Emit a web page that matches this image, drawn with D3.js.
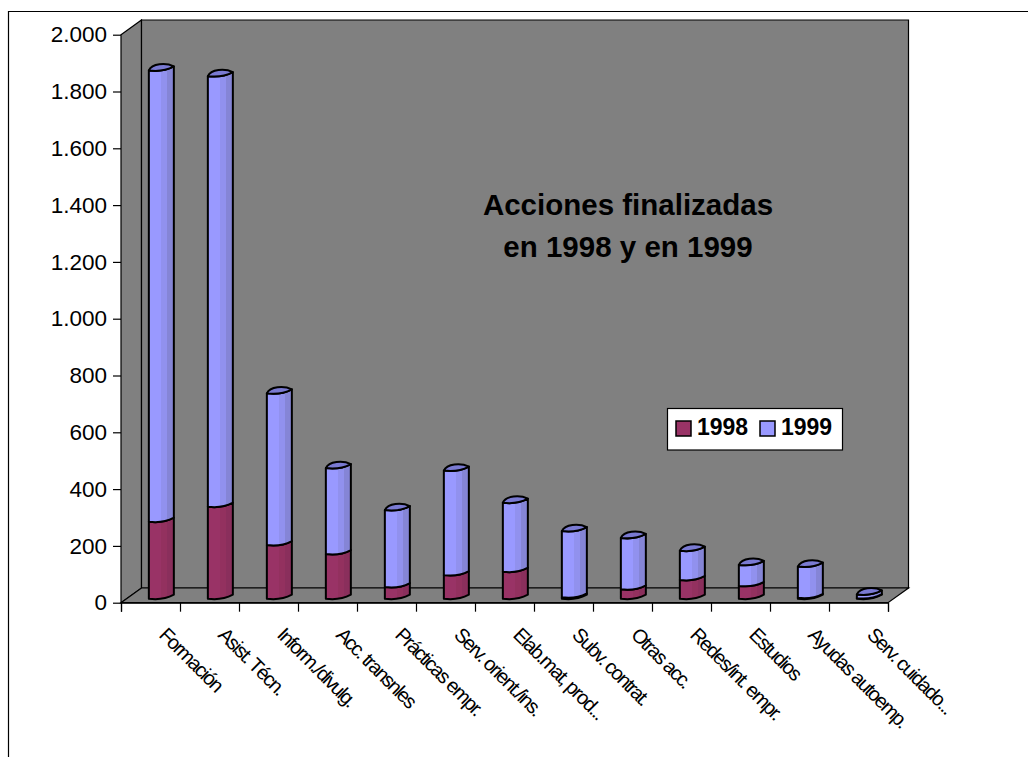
<!DOCTYPE html>
<html>
<head>
<meta charset="utf-8">
<script src="https://cdn.jsdelivr.net/npm/d3@7"></script>
<style>
  html, body { margin: 0; background: #fff; }
  text { font-family: "Liberation Sans", Arial, sans-serif; fill: #000; }
</style>
</head>
<body>
<svg id="chart" width="1028" height="757"></svg>
<script>
// values
var categories = ['Formación', 'Asist. Técn.', 'Inform./divulg.', 'Acc. transnles', 'Prácticas empr.',
  'Serv. orient./ins.', 'Elab.mat, prod...', 'Subv. contrat.', 'Otras acc.', 'Redes/int. empr.',
  'Estudios', 'Ayudas autoemp.', 'Serv. cuidado...'];
var values1998 = [271, 324, 189, 157, 41, 83, 95, 5, 33, 66, 45, 3, 2];
var values1999 = [1589, 1516, 534, 303, 271, 368, 243, 233, 181, 103, 74, 110, 13];
var yTicks = [0, 200, 400, 600, 800, 1000, 1200, 1400, 1600, 1800, 2000];
var seriesNames = ['1998', '1999'];
var titleLines = ['Acciones finalizadas', 'en 1998 y en 1999'];

var svg = d3.select('#chart');

// frame of the chart area, only left and top are inside the picture
svg.append('path')
  .attr('d', 'M8.5,757V11.5H1028')
  .attr('fill', 'none')
  .attr('stroke', '#000')
  .attr('stroke-width', 1.2);

// plot box, depth is how far the back wall is shifted from the front
var x0 = 121, x1 = 888, yBottom = 602.7, yTop = 34.7;
var depthX = 20.5, depthY = 14.7;

var xEdge = d3.scaleLinear().domain([0, categories.length]).range([x0, x1]);
var xBand = d3.scaleBand().domain(categories).range([x0, x1]);
var yScale = d3.scaleLinear().domain([0, 2000]).range([yBottom, yTop]);

var defs = svg.append('defs');
function addGradient(id, colors) {
  var grad = defs.append('linearGradient').attr('id', id);
  var offs = [0, 0.5, 0.5, 0.72, 0.72, 1];
  offs.forEach(function(o, i) {
    grad.append('stop').attr('offset', o).attr('stop-color', colors[Math.floor(i / 2)]);
  });
}
addGradient('grad1998', ['#993366', '#93315f', '#8a2f5c']);
addGradient('grad1999', ['#9999ff', '#9191ee', '#8585d6']);

// walls and floor
var walls = svg.append('g').attr('fill', '#808080').attr('stroke', '#000').attr('stroke-width', 1.2);
walls.append('polygon').attr('points', [
  [x0, yTop], [x0 + depthX, yTop - depthY], [x0 + depthX, yBottom - depthY], [x0, yBottom]
].join(' '));
walls.append('polygon').attr('points', [
  [x0 + depthX, yTop - depthY], [x1 + depthX, yTop - depthY], [x1 + depthX, yBottom - depthY], [x0 + depthX, yBottom - depthY]
].join(' '));
walls.append('polygon').attr('points', [
  [x0, yBottom], [x0 + depthX, yBottom - depthY], [x1 + depthX, yBottom - depthY], [x1, yBottom]
].join(' '));

// axes
var yAxis = d3.axisLeft(yScale)
  .tickValues(yTicks)
  .tickSize(8)
  .tickPadding(6)
  .tickFormat(function(d) { return d3.format(',')(d).replace(',', '.'); });
var yG = svg.append('g').attr('transform', 'translate(' + x0 + ',0)').call(yAxis);
yG.select('.domain').remove();
yG.selectAll('text').style('font-size', '22.5px');
yG.selectAll('line').attr('stroke-width', 1.2);

var xAxis = d3.axisBottom(xEdge).ticks(categories.length).tickSize(9).tickFormat('');
var xG = svg.append('g').attr('transform', 'translate(0,' + yBottom + ')').call(xAxis);
xG.select('.domain').attr('stroke-width', 1.2);
xG.selectAll('line').attr('stroke-width', 1.2);

// category labels at 45 degrees
svg.append('g').selectAll('text')
  .data(categories)
  .enter()
  .append('text')
    .attr('transform', function(d) {
      return 'translate(' + (xBand(d) + xBand.bandwidth() / 2 + 7.5) + ',636) rotate(45)';
    })
    .style('font-size', '20px')
    .style('letter-spacing', '-1.6px')
    .text(function(d) { return d; });

// stacked cylinders
var barData = categories.map(function(c, i) {
  return { name: c, v1998: values1998[i], v1999: values1999[i] };
});
var stacked = d3.stack().keys(['v1998', 'v1999'])(barData);

var barWidth = 25, barShiftX = -0.4, barShiftY = -4, rise = 4;

function barLeft(d) {
  return xBand(d.data.name) + xBand.bandwidth() / 2 + depthX / 2 + barShiftX - barWidth / 2 + 1;
}
// front edge of a slice: flat on the left part, rising at the right
function frontCurve(x, y) {
  return 'C' + (x + 6) + ',' + (y + 0.8) + ' ' + (x + 16) + ',' + (y + 0.8) + ' ' + (x + barWidth) + ',' + (y - rise);
}
function bodyPath(d) {
  var x = barLeft(d), a = yScale(d[0]) + barShiftY, b = yScale(d[1]) + barShiftY;
  return 'M' + x + ',' + b + 'L' + x + ',' + a + frontCurve(x, a) +
    'L' + (x + barWidth) + ',' + (b - rise) +
    'C' + (x + 16) + ',' + (b + 0.8) + ' ' + (x + 6) + ',' + (b + 0.8) + ' ' + x + ',' + b + 'Z';
}
function capPath(d) {
  var x = barLeft(d), b = yScale(d[1]) + barShiftY;
  return 'M' + x + ',' + b +
    'C' + (x + 3) + ',' + (b - 7) + ' ' + (x + 17) + ',' + (b - 8) + ' ' + (x + barWidth) + ',' + (b - rise) +
    'C' + (x + 16) + ',' + (b + 0.8) + ' ' + (x + 6) + ',' + (b + 0.8) + ' ' + x + ',' + b + 'Z';
}

var seriesG = svg.append('g').selectAll('g')
  .data(stacked)
  .enter()
  .append('g')
    .attr('fill', function(s, i) { return 'url(#grad' + seriesNames[i] + ')'; });

seriesG.selectAll('path')
  .data(function(s) { return s; })
  .enter()
  .append('path')
    .attr('d', bodyPath)
    .attr('stroke', '#000')
    .attr('stroke-width', 2)
    .attr('stroke-linejoin', 'round');

svg.append('g').selectAll('path')
  .data(stacked[1])
  .enter()
  .append('path')
    .attr('d', capPath)
    .attr('fill', '#7a7ad2')
    .attr('stroke', '#000')
    .attr('stroke-width', 2)
    .attr('stroke-linejoin', 'round');

// title
svg.append('g').selectAll('text')
  .data(titleLines)
  .enter()
  .append('text')
    .attr('x', 628)
    .attr('y', function(d, i) { return 215 + i * 42; })
    .attr('text-anchor', 'middle')
    .style('font-size', '29.5px')
    .style('font-weight', 'bold')
    .text(function(d) { return d; });

// legend
var legend = svg.append('g');
legend.append('rect')
  .attr('x', 667.5).attr('y', 408.5).attr('width', 175).attr('height', 41.5)
  .attr('fill', '#fff').attr('stroke', '#000').attr('stroke-width', 1.2);
var legendItem = legend.selectAll('g')
  .data(seriesNames)
  .enter()
  .append('g')
    .attr('transform', function(d, i) { return 'translate(' + (676 + i * 84) + ',421)'; });
legendItem.append('rect')
  .attr('width', 15).attr('height', 15)
  .attr('fill', function(d) { return d === '1998' ? '#993366' : '#9999ff'; })
  .attr('stroke', '#000').attr('stroke-width', 1.5);
legendItem.append('text')
  .attr('x', 21).attr('y', 13.5)
  .style('font-size', '23px')
  .style('font-weight', 'bold')
  .text(function(d) { return d; });
</script>
</body>
</html>
